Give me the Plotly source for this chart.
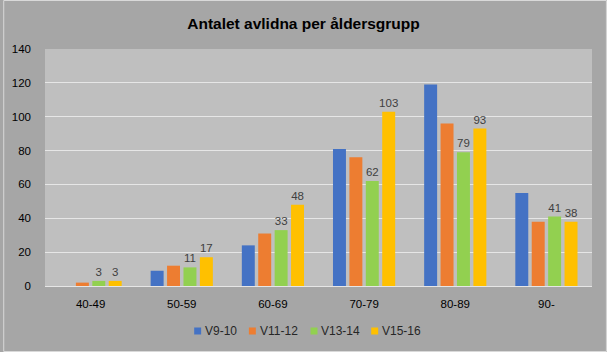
import plotly.graph_objects as go

categories = ["40-49", "50-59", "60-69", "70-79", "80-89", "90-"]
series_names = ["V9-10", "V11-12", "V13-14", "V15-16"]
v9_10 = [0, 9, 24, 81, 119, 55]
v11_12 = [2, 12, 31, 76, 96, 38]
v13_14 = [3, 11, 33, 62, 79, 41]
v15_16 = [3, 17, 48, 103, 93, 38]
colors = ["#4472C4", "#ED7D31", "#92D050", "#FFC000"]
show_labels = [False, False, True, True]
y_ticks = [0, 20, 40, 60, 80, 100, 120, 140]

FONT = "Liberation Sans"
fig = go.Figure()
for name, vals, col, lab in zip(series_names, [v9_10, v11_12, v13_14, v15_16], colors, show_labels):
    fig.add_trace(go.Bar(
        name=name, x=categories, y=vals, marker=dict(color=col, line=dict(width=0)),
        text=vals if lab else None,
        textposition="outside" if lab else "none",
        textfont=dict(family=FONT, size=11.5, color="#404040"),
        constraintext="none",
        cliponaxis=False, showlegend=False,
    ))

W, H = 607, 352
L, R, T, B = 42, 15, 49, 66
pw, ph = W - L - R, H - T - B

def px_x(px):
    return (px - L) / pw

def px_y(py):
    return (H - B - py) / ph

# Manual legend (square + label), positions in pixels
legend_sq_x = [192, 247, 309, 370]
legend_y = 331
shapes = []
annotations = []
for name, col, sx in zip(series_names, colors, legend_sq_x):
    shapes.append(dict(type="rect", xref="paper", yref="paper",
                       x0=px_x(sx), x1=px_x(sx + 7), y0=px_y(legend_y + 3.5), y1=px_y(legend_y - 3.5),
                       fillcolor=col, line=dict(width=0), layer="above"))
    annotations.append(dict(text=name, xref="paper", yref="paper", x=px_x(sx + 9), y=px_y(legend_y),
                            xanchor="left", yanchor="middle", showarrow=False,
                            font=dict(family=FONT, size=12, color="#262626")))

shapes.append(dict(type="rect", xref="paper", yref="paper",
                   x0=-(L - 0.5) / pw, x1=1 + (R - 0.5) / pw,
                   y0=-(B - 0.5) / ph, y1=1 + (T - 0.5) / ph,
                   line=dict(color="#D9D9D9", width=1), fillcolor="rgba(0,0,0,0)", layer="above"))

fig.update_layout(
    width=W, height=H,
    margin=dict(l=L, r=R, t=T, b=B),
    paper_bgcolor="#A6A6A6",
    plot_bgcolor="#BFBFBF",
    barmode="group", bargap=0.28, bargroupgap=0.21,
    font=dict(family=FONT, size=11, color="#262626"),
    title=dict(text="<b>Antalet avlidna per åldersgrupp</b>", x=0.5, xref="container",
               xanchor="center", y=1 - 24 / H, yanchor="middle", yref="container",
               font=dict(family=FONT, size=15.5, color="#000000")),
    showlegend=False,
    xaxis=dict(showgrid=False, showline=False, ticks="", ticklabelstandoff=9,
               tickfont=dict(family=FONT, size=11.5, color="#000000")),
    yaxis=dict(range=[0, 140], tickvals=y_ticks, showgrid=True, gridcolor="#E6E6E6", gridwidth=1,
               zeroline=True, zerolinecolor="#E6E6E6", zerolinewidth=1, showline=False, ticks="",
               ticklabelstandoff=13, tickfont=dict(family=FONT, size=11.5, color="#000000")),
    shapes=shapes,
    annotations=annotations,
)

fig.write_html("out.html")
